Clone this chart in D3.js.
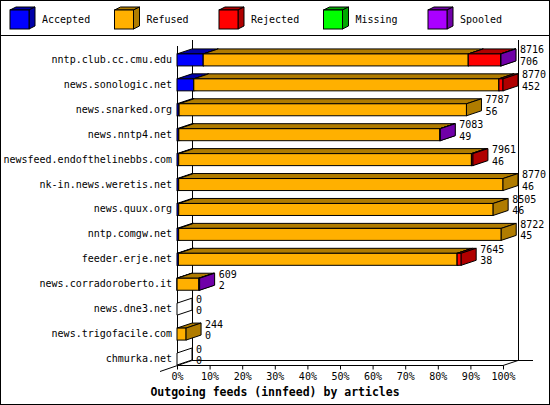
<!DOCTYPE html>
<html>
<head>
<meta charset="utf-8">
<script src="https://cdn.jsdelivr.net/npm/d3@7"></script>
<style>
  body { margin: 0; background: #fff; }
  text { font-family: "DejaVu Sans Mono", monospace; font-size: 10px; fill: #000; }
</style>
</head>
<body>
<div id="chart"></div>
<script>
// data (article counts per feed)
var hosts = ["nntp.club.cc.cmu.edu", "news.sonologic.net", "news.snarked.org", "news.nntp4.net",
  "newsfeed.endofthelinebbs.com", "nk-in.news.weretis.net", "news.quux.org", "nntp.comgw.net",
  "feeder.erje.net", "news.corradoroberto.it", "news.dne3.net", "news.trigofacile.com", "chmurka.net"];
var offered = [8716, 8770, 7787, 7083, 7961, 8770, 8505, 8722, 7645, 609, 0, 244, 0];
var accepted = [706, 452, 56, 49, 46, 46, 46, 45, 38, 2, 0, 0, 0];
var refused = [7130, 8208, 7731, 7024, 7875, 8724, 8459, 8677, 7499, 587, 0, 244, 0];
var rejected = [870, 110, 0, 0, 40, 0, 0, 0, 108, 0, 0, 0, 0];
var missing = [0, 0, 0, 0, 0, 0, 0, 0, 0, 0, 0, 0, 0];
var spooled = [10, 0, 0, 10, 0, 0, 0, 0, 0, 20, 0, 0, 0];
var seriesNames = ["Accepted", "Refused", "Rejected", "Missing", "Spooled"];
var tickValues = [0, 10, 20, 30, 40, 50, 60, 70, 80, 90, 100];
var title = "Outgoing feeds (innfeed) by articles";

var series = [accepted, refused, rejected, missing, spooled];
var front = ["#0000ff", "#ffb000", "#ff0000", "#00ff00", "#aa00ff"];
var dark = ["#0000a8", "#b07c00", "#b00000", "#00a800", "#7000a8"];

var width = 550, height = 405;
var plot = { left: 177, right: 503, top: 41, bottom: 365 };
var depth = { x: 15, y: -5 };
var barH = 12;

var svg = d3
  .select("#chart")
  .append("svg")
  .attr("width", width)
  .attr("height", height);

svg.append("rect")
  .attr("x", 0.5).attr("y", 0.5)
  .attr("width", width - 1).attr("height", height - 1)
  .attr("fill", "#fff").attr("stroke", "#000");

svg.append("line")
  .attr("x1", 0).attr("x2", width)
  .attr("y1", 35.5).attr("y2", 35.5)
  .attr("stroke", "#000");

// legend cubes
var legend = svg.selectAll(".legend")
  .data(seriesNames)
  .enter()
  .append("g")
  .attr("transform", function (d, i) {
    return "translate(" + (10 + i * 104.5) + ",10)";
  });
legend.append("polygon")
  .attr("points", "0,0 6,-3 25,-3 19,0")
  .attr("fill", function (d, i) { return dark[i]; })
  .attr("stroke", "#000");
legend.append("polygon")
  .attr("points", "19,0 25,-3 25,16 19,19")
  .attr("fill", function (d, i) { return dark[i]; })
  .attr("stroke", "#000");
legend.append("rect")
  .attr("x", 0).attr("y", 0).attr("width", 19).attr("height", 19)
  .attr("fill", function (d, i) { return front[i]; })
  .attr("stroke", "#000");
legend.append("text")
  .attr("x", 32).attr("y", 9.5)
  .attr("dy", "0.35em")
  .text(function (d) { return d; });

var x = d3.scaleLinear()
  .domain([0, d3.max(offered)])
  .range([plot.left, plot.right]);
var xPct = d3.scaleLinear().domain([0, 100]).range([plot.left, plot.right]);
var y = d3.scaleBand()
  .domain(hosts)
  .range([plot.top, plot.bottom]);

// walls and floor
var walls = svg.append("g").attr("stroke", "#000").attr("fill", "none");
walls.append("line")
  .attr("x1", plot.left + depth.x + 0.5).attr("x2", plot.left + depth.x + 0.5)
  .attr("y1", plot.top - 1).attr("y2", plot.bottom + depth.y);
walls.append("line")
  .attr("x1", plot.right + depth.x + 0.5).attr("x2", plot.right + depth.x + 0.5)
  .attr("y1", plot.top - 1).attr("y2", plot.bottom + depth.y);
walls.append("line")
  .attr("x1", plot.left + depth.x).attr("x2", plot.right + depth.x + 15)
  .attr("y1", plot.bottom + depth.y + 0.5).attr("y2", plot.bottom + depth.y + 0.5);
walls.append("line")
  .attr("x1", plot.left - 17).attr("x2", plot.left + depth.x)
  .attr("y1", plot.bottom + 6.5).attr("y2", plot.bottom + depth.y + 0.5);
walls.append("line")
  .attr("x1", plot.right).attr("x2", plot.right + depth.x)
  .attr("y1", plot.bottom + 0.5).attr("y2", plot.bottom + depth.y + 0.5);
walls.append("line")
  .attr("x1", plot.left + 0.5).attr("x2", plot.left + 0.5)
  .attr("y1", plot.top + 5).attr("y2", plot.bottom);

// x axis
var axis = svg.append("g")
  .attr("transform", "translate(0," + (plot.bottom + 0.5) + ")")
  .call(d3.axisBottom(xPct).tickValues(tickValues).tickSize(4).tickPadding(3)
    .tickFormat(function (d) { return d + "%"; }));
axis.select(".domain").attr("d", "M" + plot.left + ",0H" + plot.right);
axis.selectAll("text").style("font-family", "DejaVu Sans Mono").style("font-size", "10px");
axis.selectAll("line").attr("stroke", "#000");

// bars, drawn segment by segment from left to right
var rows = svg.selectAll(".row")
  .data(hosts)
  .enter()
  .append("g")
  .attr("class", "row");

rows.each(function (h, r) {
  var g = d3.select(this);
  var b = y(h) + y.bandwidth();
  var t = b - barH;
  var cum = 0;
  var drawn = 0;
  series.forEach(function (s, k) {
    if (s[r] <= 0) return;
    var x0 = x(cum), x1 = x(cum + s[r]);
    cum += s[r];
    drawn++;
    g.append("polygon")
      .attr("points", [[x0, t], [x1, t], [x1 + depth.x, t + depth.y], [x0 + depth.x, t + depth.y]].join(" "))
      .attr("fill", dark[k]).attr("stroke", "#000");
    g.append("rect")
      .attr("x", x0).attr("y", t)
      .attr("width", x1 - x0).attr("height", barH)
      .attr("fill", front[k]).attr("stroke", "#000");
    g.append("polygon")
      .attr("points", [[x1, t], [x1 + depth.x, t + depth.y], [x1 + depth.x, b + depth.y], [x1, b]].join(" "))
      .attr("fill", dark[k]).attr("stroke", "#000");
  });
  if (!drawn) {
    // empty feed: only the outline of a flat bar
    var x0 = x(0);
    g.append("polygon")
      .attr("points", [[x0, t], [x0 + depth.x, t + depth.y], [x0 + depth.x, b + depth.y], [x0, b]].join(" "))
      .attr("fill", "#fff").attr("stroke", "#000");
  }
  var lx = x(offered[r]) + depth.x + 4;
  g.append("text").attr("x", lx).attr("y", t - 4).attr("dy", "0.35em").text(offered[r]);
  g.append("text").attr("x", lx).attr("y", t + 7.5).attr("dy", "0.35em").text(accepted[r]);
  g.append("text")
    .attr("x", plot.left - 5).attr("y", t + 5.5)
    .attr("dy", "0.35em")
    .attr("text-anchor", "end")
    .text(h);
});

svg.append("text")
  .attr("x", 275).attr("y", 392)
  .attr("dy", "0.35em")
  .attr("text-anchor", "middle")
  .style("font-weight", "bold")
  .style("font-size", "11.5px")
  .text(title);
</script>
</body>
</html>
